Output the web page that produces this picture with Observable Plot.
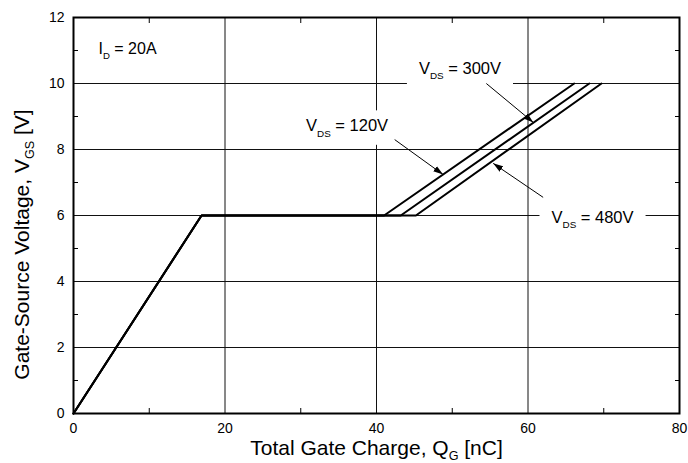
<!DOCTYPE html>
<html>
<head>
<meta charset="utf-8">
<script src="https://cdn.jsdelivr.net/npm/d3@7"></script>
<script src="https://cdn.jsdelivr.net/npm/@observablehq/plot@0.6"></script>
<style>
  body { margin: 0; background: #fff; }
  svg { font-family: "Liberation Sans", Arial, sans-serif; }
</style>
</head>
<body>
<div id="chart"></div>
<script>
// ---- data ----
const seriesNames = ["120V", "300V", "480V"];
const qg120 = [0, 16.9, 41.0, 66.1];
const qg300 = [0, 16.9, 43.2, 68.1];
const qg480 = [0, 16.9, 45.2, 69.7];
const vgsPoints = [0, 6, 6, 10];

const xTicks = [0, 20, 40, 60, 80];
const yTicks = [0, 2, 4, 6, 8, 10, 12];
const xGrid = [20, 40, 60];
const yGrid = [2, 4, 6, 8, 10];
const xMinor = [10, 30, 50, 70];
const yMinor = [1, 3, 5, 7, 9, 11];

const annText = ["V_{DS} = 120V", "V_{DS} = 300V", "V_{DS} = 480V"];
const annX = [30.7, 45.6, 63.1];
const annY = [8.71, 10.45, 5.94];

const noteText = ["I_{D} = 20A"];
const noteX = [3.3];
const noteY = [11.06];

const arrowX1 = [42.4, 54.5, 62.0];
const arrowY1 = [8.30, 10.0, 6.55];
const arrowX2 = [48.8, 60.7, 55.4];
const arrowY2 = [7.24, 8.82, 7.58];

const xTitle = "Total Gate Charge, Q_{G} [nC]";
const yTitle = "Gate-Source Voltage, V_{GS} [V]";

// ---- table for the line mark ----
const rows = [];
[[seriesNames[0], qg120], [seriesNames[1], qg300], [seriesNames[2], qg480]].forEach(([name, qs]) =>
  qs.forEach((q, i) => rows.push({series: name, q, v: vgsPoints[i]}))
);

const noLabel = () => "";

const chart = Plot.plot({
  width: 688,
  height: 463,
  marginLeft: 73,
  marginRight: 9,
  marginTop: 17,
  marginBottom: 50,
  style: {fontFamily: "'Liberation Sans', Arial, sans-serif", background: "white", color: "black"},
  x: {domain: [0, 80]},
  y: {domain: [0, 12]},
  marks: [
    Plot.gridX(xGrid, {stroke: "#111", strokeOpacity: 1, strokeWidth: 1}),
    Plot.gridY(yGrid, {stroke: "#111", strokeOpacity: 1, strokeWidth: 1}),
    Plot.text(annText, {x: (d, i) => annX[i], y: (d, i) => annY[i], text: d => d, textAnchor: "start", fontSize: 16.5, fill: "black"}),
    Plot.text(noteText, {x: (d, i) => noteX[i], y: (d, i) => noteY[i], text: d => d, textAnchor: "start", fontSize: 16, fill: "black"}),
    Plot.link(arrowX1, {x1: (d, i) => arrowX1[i], y1: (d, i) => arrowY1[i], x2: (d, i) => arrowX2[i], y2: (d, i) => arrowY2[i], stroke: "black", strokeWidth: 1}),
    Plot.line(rows, {x: "q", y: "v", z: "series", stroke: "black", strokeWidth: 2}),
    Plot.axisX(xTicks, {tickSize: 0, tickPadding: 10, fontSize: 14, label: null}),
    Plot.axisY(yTicks, {tickSize: 0, tickPadding: 9, fontSize: 14, label: null}),
    Plot.axisX(xMinor, {anchor: "bottom", tickSize: 5, dy: -5, tickFormat: noLabel, label: null}),
    Plot.axisX(xMinor, {anchor: "top", tickSize: 5, dy: 5, tickFormat: noLabel, label: null}),
    Plot.axisY(yMinor, {anchor: "left", tickSize: 5, dx: 5, tickFormat: noLabel, label: null}),
    Plot.axisY(yMinor, {anchor: "right", tickSize: 5, dx: -5, tickFormat: noLabel, label: null}),
    Plot.text([xTitle], {frameAnchor: "bottom", textAnchor: "middle", dy: 41, fontSize: 21, fill: "black"}),
    Plot.text([yTitle], {frameAnchor: "left", textAnchor: "middle", lineAnchor: "middle", rotate: -90, dx: -51, dy: 29, fontSize: 21, fill: "black"}),
    Plot.frame({stroke: "black", strokeWidth: 2})
  ]
});

document.getElementById("chart").append(chart);

// ---- post-processing: subscripts, label boxes, arrow heads ----
const NS = "http://www.w3.org/2000/svg";
const svg = chart.tagName.toLowerCase() === "svg" ? chart : chart.querySelector("svg");

const boxed = [];
svg.querySelectorAll("text").forEach(t => {
  if (annText.includes(t.textContent)) boxed.push(t);
});

svg.querySelectorAll("text").forEach(t => {
  const s = t.textContent;
  if (!s.includes("_{")) return;
  const fs = parseFloat(getComputedStyle(t).fontSize) || 16;
  const shift = fs > 18 ? 0.25 : 0.33;
  const parts = s.split(/(_\{[^}]*\})/).filter(p => p);
  t.textContent = "";
  let pendingUp = false;
  for (const p of parts) {
    const ts = document.createElementNS(NS, "tspan");
    if (p.startsWith("_{")) {
      ts.textContent = p.slice(2, -1);
      ts.style.fontSize = (0.6 * fs) + "px";
      ts.setAttribute("dy", shift * fs);
      pendingUp = true;
    } else {
      ts.textContent = p;
      if (pendingUp) { ts.setAttribute("dy", -shift * fs); pendingUp = false; }
    }
    t.appendChild(ts);
  }
});

boxed.forEach(t => {
  const b = t.getBBox();
  const r = document.createElementNS(NS, "rect");
  const px = 12, py = 6;
  r.setAttribute("x", b.x - px);
  r.setAttribute("y", b.y - py);
  r.setAttribute("width", b.width + 2 * px);
  r.setAttribute("height", b.height + 2 * py);
  r.setAttribute("fill", "white");
  r.setAttribute("stroke", "none");
  const tr = t.getAttribute("transform");
  if (tr) r.setAttribute("transform", tr);
  t.parentNode.insertBefore(r, t);
});

// filled arrow heads on the link mark
const defs = document.createElementNS(NS, "defs");
const marker = document.createElementNS(NS, "marker");
marker.setAttribute("id", "ahead");
marker.setAttribute("viewBox", "0 -4 10 8");
marker.setAttribute("refX", "10");
marker.setAttribute("refY", "0");
marker.setAttribute("markerWidth", "10");
marker.setAttribute("markerHeight", "8");
marker.setAttribute("markerUnits", "userSpaceOnUse");
marker.setAttribute("orient", "auto");
const mp = document.createElementNS(NS, "path");
mp.setAttribute("d", "M0,-3.2L10,0L0,3.2Z");
mp.setAttribute("fill", "black");
marker.appendChild(mp);
defs.appendChild(marker);
svg.insertBefore(defs, svg.firstChild);
svg.querySelectorAll('g[aria-label="link"] path').forEach(p => p.setAttribute("marker-end", "url(#ahead)"));
</script>
</body>
</html>
